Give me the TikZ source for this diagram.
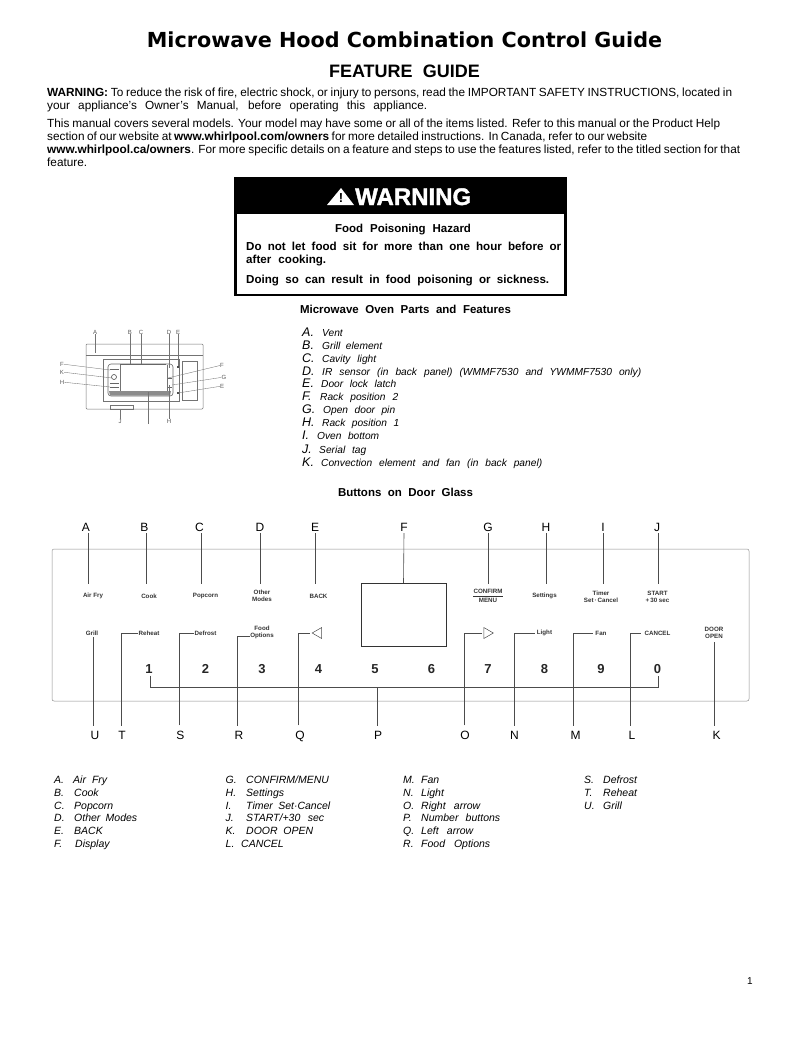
\documentclass[tikz,border=0pt]{standalone}
\usepackage{fontspec}
\setmainfont{Liberation Sans}
\newfontfamily\titlefont{DejaVu Sans}
\newfontfamily\warnfont[BoldFeatures={FakeBold=1.6}]{Liberation Sans}
\usepackage{tikz}
\usetikzlibrary{positioning,shapes.geometric}
\newcommand{\fitline}[2]{\makebox[#1pt][s]{#2}}
\newcommand{\fsize}[1]{\fontsize{#1}{#1}\selectfont}

\begin{document}
\begin{tikzpicture}[
    x=1pt, y=-1pt,
    on grid,
    page/.style={anchor=base west, inner sep=0pt, font=\fsize{11.8}},
    heading/.style={anchor=base, inner sep=0pt, font=\fsize{11.5}\bfseries},
    hazard/.style={anchor=base west, inner sep=0pt, font=\fsize{11.6}\bfseries},
    smalltag/.style={inner sep=0pt, font=\fsize{6}, text=black!65},
    leader/.style={draw=black!55, line width=0.35pt},
    letter/.style={anchor=base west, inner sep=0pt, font=\fsize{12.5}\itshape},
    partname/.style={anchor=base west, inner sep=0pt, font=\fsize{10.2}\itshape},
    legend/.style={anchor=base west, inner sep=0pt, font=\fsize{10.5}\itshape},
    callout/.style={anchor=base, inner sep=0pt, font=\fsize{12}},
    btn/.style={inner sep=0pt, align=center, font=\fsize{6.2}\bfseries, text=black!80},
    digit/.style={inner sep=0pt, font=\fsize{13}\bfseries, text=black!85},
    wire/.style={draw=black!70, line width=0.6pt},
    arrowkey/.style={isosceles triangle, isosceles triangle stretches, draw=black!70, line width=0.5pt,
                inner sep=0pt, minimum width=11pt, minimum height=9.5pt},
    node distance=56.5pt
]
\useasboundingbox (0,0) rectangle (802,1037);

% page heading
\node[anchor=base, inner sep=0pt, font=\titlefont\fsize{20.7}\bfseries] (title) at (404.5,47.5) {Microwave Hood Combination Control Guide};
\node[anchor=base, inner sep=0pt, font=\fsize{18}\bfseries] (subtitle) at (404.5,77) {\fitline{151}{FEATURE \ GUIDE}};

% intro text
\node[page] (warnone) at (47,96) {\fitline{685}{\textbf{WARNING:} To reduce the risk of fire, electric shock, or injury to persons, read the IMPORTANT SAFETY INSTRUCTIONS, located in}};
\node[page] (warntwo) at (47,109) {\fitline{380}{your appliance's Owner's Manual, before operating this appliance.}};
\node[page] (introone) at (47,127) {\fitline{673}{This manual covers several models. Your model may have some or all of the items listed. Refer to this manual or the Product Help}};
\node[page] (introtwo) at (47,140) {\fitline{600}{section of our website at \textbf{www.whirlpool.com/owners} for more detailed instructions. In Canada, refer to our website}};
\node[page] (introthree) at (47,153) {\fitline{693}{\textbf{www.whirlpool.ca/owners}. For more specific details on a feature and steps to use the features listed, refer to the titled section for that}};
\node[page] (introfour) at (47,166) {feature.};

% warning box
\fill[black] (234,177) rectangle (567,214);
\draw[black, line width=2.6pt] (235.3,178.3) rectangle (565.7,295);
\fill[white] (341,188) -- (354,205) -- (327,205) -- cycle;
\node[inner sep=0pt, font=\fsize{13}\bfseries, text=black] (bang) at (341,198) {!};
\node[anchor=base west, inner sep=0pt, text=white, font=\warnfont\fsize{24}\bfseries] (warnword) at (355,205) {WARNING};
\node[heading] (hazardname) at (403,232) {\fitline{136}{Food \ Poisoning \ Hazard}};
\node[hazard] (hazardone) at (246,250) {\fitline{315}{Do \ not \ let \ food \ sit \ for \ more \ than \ one \ hour \ before \ or}};
\node[hazard] (hazardtwo) at (246,263) {\fitline{80}{after \ cooking.}};
\node[hazard] (hazardthree) at (246,283) {\fitline{303}{Doing \ so \ can \ result \ in \ food \ poisoning \ or \ sickness.}};

\node[heading] (partshead) at (405.5,313) {\fitline{211}{Microwave \ Oven \ Parts \ and \ Features}};
\node[heading] (buttonshead) at (405.5,496) {\fitline{135}{Buttons \ on \ Door \ Glass}};

% oven sketch
\draw[black!55, line width=0.5pt, rounded corners=1pt] (86,344) rectangle (203,409);
\draw[black!55, line width=0.5pt] (86,355) -- (203,355);
\draw[black!55, line width=0.5pt] (103,359) rectangle (179,401);
\draw[black!55, line width=0.5pt] (182,361) rectangle (197,400);
\draw[black!60, line width=0.6pt, rounded corners=3pt] (108,364) rectangle (173,396);
\fill[black!45] (109,391) -- (171,391) -- (170,395.5) -- (110,395.5) -- cycle;
\draw[black!60, line width=0.8pt] (120,364.5) -- (166,364.5);
\draw[black!55, line width=0.5pt] (120,365) -- (120,391) (167,365) -- (167,391);
\draw[black!60, line width=0.6pt] (110,369) -- (119,369) (110,383) -- (119,383) (110,387) -- (119,387);
\draw[black!60, line width=0.6pt] (168,378) -- (172,378) (168,387) -- (172,387);
\draw[black!70, line width=0.6pt] (114,377) circle (2.5pt);
\fill[black!70] (177,366) rectangle (179,368);
\fill[black!70] (177,391.5) rectangle (179,393.5);
\draw[black!55, line width=0.5pt] (110,405) rectangle (133,409);

\node[smalltag] (tagA) at (95,332) {A};
\node[smalltag] (tagB) at (130,332) {B};
\node[smalltag] (tagC) at (141,332) {C};
\node[smalltag] (tagD) at (169,332) {D};
\node[smalltag] (tagE) at (178,332) {E};
\node[smalltag] (tagFleft) at (62,364) {F};
\node[smalltag] (tagK) at (62,372) {K};
\node[smalltag] (tagH) at (62,382) {H};
\node[smalltag] (tagFright) at (222,365) {F};
\node[smalltag] (tagG) at (224,377) {G};
\node[smalltag] (tagEright) at (222,386) {E};
\node[smalltag] (tagJ) at (120,421) {J};
\node[smalltag] (tagHlow) at (169,421) {H};
\coordinate (tagI) at (148,424);

\draw[leader] (tagA) -- (95,353);
\draw[leader] (tagB) -- (130,364);
\draw[leader] (tagC) -- (141,364);
\draw[leader] (tagD) -- (169,368);
\draw[leader] (tagE) -- (178,366);
\draw[leader] (tagFleft) -- (110,370);
\draw[leader] (tagK) -- (112,378);
\draw[leader] (tagH) -- (110,387);
\draw[leader] (tagFright) -- (168,378);
\draw[leader] (tagG) -- (172,385);
\draw[leader] (tagEright) -- (178,393);
\draw[leader] (tagJ) -- (120,409);
\draw[leader] (tagI) -- (148,392);
\draw[leader] (tagHlow) -- (169,385);

% parts list
\node[letter] (partA) at (302,336) {A.};
\node[partname] (nameA) at (322,336) {Vent};
\node[letter] (partB) at (302,349) {B.};
\node[partname] (nameB) at (322,349) {\fitline{60}{Grill \ element}};
\node[letter] (partC) at (302,362) {C.};
\node[partname] (nameC) at (322,362) {\fitline{54}{Cavity \ light}};
\node[letter] (partD) at (302,375) {D.};
\node[partname] (nameD) at (322,375) {\fitline{319}{IR \ sensor \ (in \ back \ panel) \ (WMMF7530 \ and \ YWMMF7530 \ only)}};
\node[letter] (partE) at (302,387.5) {E.};
\node[partname] (nameE) at (321,387.5) {\fitline{75}{Door \ lock \ latch}};
\node[letter] (partF) at (302,400) {F.};
\node[partname] (nameF) at (320,400) {\fitline{78}{Rack \ position \ 2}};
\node[letter] (partG) at (302,413) {G.};
\node[partname] (nameG) at (323,413) {\fitline{72}{Open \ door \ pin}};
\node[letter] (partH) at (302,426) {H.};
\node[partname] (nameH) at (322,426) {\fitline{77}{Rack \ position \ 1}};
\node[letter] (partI) at (302,439) {I.};
\node[partname] (nameI) at (317,439) {\fitline{62}{Oven \ bottom}};
\node[letter] (partJ) at (302,453) {J.};
\node[partname] (nameJ) at (319,453) {\fitline{47}{Serial \ tag}};
\node[letter] (partK) at (302,466) {K.};
\node[partname] (nameK) at (321,466) {\fitline{221}{Convection \ element \ and \ fan \ (in \ back \ panel)}};

% control panel
\draw[black!45, line width=0.5pt, rounded corners=2pt] (52,549) rectangle (749,701);
\node[draw=black!80, line width=0.5pt, minimum width=85pt, minimum height=63pt, inner sep=0pt] (display) at (403.5,614.5) {};

% number row
\node[digit] (digitone) at (149,669) {1};
\node[digit, right=of digitone] (digittwo) {2};
\node[digit, right=of digittwo] (digitthree) {3};
\node[digit, right=of digitthree] (digitfour) {4};
\node[digit, right=of digitfour] (digitfive) {5};
\node[digit, right=of digitfive] (digitsix) {6};
\node[digit, right=of digitsix] (digitseven) {7};
\node[digit, right=of digitseven] (digiteight) {8};
\node[digit, right=of digiteight] (digitnine) {9};
\node[digit, right=of digitnine] (digitzero) {0};

% lower buttons
\node[btn, above=36pt of digitone] (reheat) {Reheat};
\node[btn, above=36pt of digittwo] (defrost) {Defrost};
\node[btn, above=36pt of digitthree, yshift=0.5pt] (foodoptions) {Food\\[1pt]Options};
\node[btn, left=57pt of reheat] (grill) {Grill};
\node[arrowkey, shape border rotate=180, above=36pt of digitfour] (leftkey) {};
\node[arrowkey, above=36pt of digitseven, xshift=-1pt] (rightkey) {};
\node[btn, above=36pt of digiteight] (light) {Light};
\node[btn, above=36pt of digitnine] (fan) {Fan};
\node[btn, above=36pt of digitzero] (cancel) {CANCEL};
\node[btn, right=56.5pt of cancel, yshift=0.5pt] (dooropen) {DOOR\\[1pt]OPEN};

% upper buttons
\node[btn, above=37pt of reheat] (cook) {Cook};
\node[btn, above=37pt of defrost] (popcorn) {Popcorn};
\node[btn, left=56pt of cook] (airfry) {Air Fry};
\node[btn, above=36.5pt of foodoptions] (othermodes) {Other\\[1pt]Modes};
\node[btn, above=73pt of digitfour] (back) {BACK};
\node[btn, above=73pt of digitseven] (confirm) {CONFIRM\\[3.5pt]MENU};
\draw[black!80, line width=0.5pt] (confirm.west) -- (confirm.east);
\node[btn, above=37pt of light] (settings) {Settings};
\node[btn, above=37pt of fan, yshift=-0.5pt] (timer) {Timer\\[1pt]Set\,{\textperiodcentered}\,Cancel};
\node[btn, above=37pt of cancel, yshift=-0.5pt] (startkey) {START\\[1pt]+\,30 sec};

% callout letters
\node[callout] (topA) at (86,531) {A};
\node[callout] (topB) at (144.5,531) {B};
\node[callout] (topC) at (199.5,531) {C};
\node[callout] (topD) at (260,531) {D};
\node[callout] (topE) at (315,531) {E};
\node[callout] (topF) at (404,531) {F};
\node[callout] (topG) at (488,531) {G};
\node[callout] (topH) at (546,531) {H};
\node[callout] (topI) at (603,531) {I};
\node[callout] (topJ) at (657,531) {J};
\node[callout] (lowU) at (95,739) {U};
\node[callout] (lowT) at (122,739) {T};
\node[callout] (lowS) at (180.5,739) {S};
\node[callout] (lowR) at (239,739) {R};
\node[callout] (lowQ) at (300,739) {Q};
\node[callout] (lowP) at (378,739) {P};
\node[callout] (lowO) at (465,739) {O};
\node[callout] (lowN) at (514.5,739) {N};
\node[callout] (lowM) at (575.5,739) {M};
\node[callout] (lowL) at (632,739) {L};
\node[callout] (lowK) at (716.5,739) {K};

\draw[wire] ([xshift=2pt,yshift=-2pt]topA.south) -- (88,584);
\draw[wire] ([xshift=2pt,yshift=-2pt]topB.south) -- (146.5,584);
\draw[wire] ([xshift=2pt,yshift=-2pt]topC.south) -- (201.5,584);
\draw[wire] ([yshift=-2pt]topD.south) -- (260,584);
\draw[wire] ([xshift=0.5pt,yshift=-2pt]topE.south) -- (315.5,584);
\draw[wire] ([yshift=-2pt]topF.south) -- (display.north);
\draw[wire] ([xshift=0.5pt,yshift=-2pt]topG.south) -- (488.5,584);
\draw[wire] ([yshift=-2pt]topH.south) -- (546,584);
\draw[wire] ([yshift=-2pt]topI.south) -- (603,584);
\draw[wire] ([xshift=1pt,yshift=-2pt]topJ.south) -- (658,584);

\draw[wire] ([xshift=-2pt,yshift=5pt]lowU.north) -- ([xshift=1pt,yshift=-2pt]grill.south);
\draw[wire] ([xshift=-1pt,yshift=5pt]lowT.north) |- (reheat.west);
\draw[wire] ([xshift=-1.5pt,yshift=5pt]lowS.north) |- (defrost.west);
\draw[wire] ([xshift=-2pt,yshift=5pt]lowR.north) |- ([yshift=-3.5pt]foodoptions.west);
\draw[wire] ([xshift=-2pt,yshift=5pt]lowQ.north) |- ([xshift=-2pt]leftkey.apex);
\draw[wire] ([xshift=-1pt,yshift=5pt]lowO.north) |- ([xshift=-2pt]rightkey.west);
\draw[wire] ([yshift=5pt]lowN.north) |- ([xshift=-2pt]light.west);
\draw[wire] ([xshift=-2.5pt,yshift=5pt]lowM.north) |- ([xshift=-2pt]fan.west);
\draw[wire] ([xshift=-2pt,yshift=5pt]lowL.north) |- ([xshift=-3pt]cancel.west);
\draw[wire] ([xshift=-2.5pt,yshift=5pt]lowK.north) -- ([yshift=-3pt]dooropen.south);

% number bracket
\coordinate (bracketmid) at (377,687);
\draw[wire] ([xshift=1pt,yshift=-2pt]digitone.south) |- (bracketmid) -| ([xshift=1pt,yshift=-2pt]digitzero.south);
\draw[wire] ([xshift=-1pt,yshift=5pt]lowP.north) -- (bracketmid);

% legend
\node[legend] (legA) at (54,783) {A.}; \node[legend] (txtA) at (73,783) {\fitline{34}{Air \ Fry}};
\node[legend] (legB) at (54,796) {B.}; \node[legend] (txtB) at (74,796) {Cook};
\node[legend] (legC) at (54,809) {C.}; \node[legend] (txtC) at (74,809) {Popcorn};
\node[legend] (legD) at (54,821.5) {D.}; \node[legend] (txtD) at (74,821.5) {\fitline{63}{Other \ Modes}};
\node[legend] (legE) at (54,834) {E.}; \node[legend] (txtE) at (74,834) {BACK};
\node[legend] (legF) at (54,847) {F.}; \node[legend] (txtF) at (75,847) {Display};

\node[legend] (legG) at (225.5,783) {G.}; \node[legend] (txtG) at (246,783) {CONFIRM/MENU};
\node[legend] (legH) at (225.5,796) {H.}; \node[legend] (txtH) at (246,796) {Settings};
\node[legend] (legI) at (225.5,809) {I.}; \node[legend] (txtI) at (246,809) {\fitline{84}{Timer \ Set\textperiodcentered Cancel}};
\node[legend] (legJ) at (225.5,821.5) {J.}; \node[legend] (txtJ) at (246,821.5) {\fitline{78}{START/+30 \ sec}};
\node[legend] (legK) at (225.5,834) {K.}; \node[legend] (txtK) at (246,834) {\fitline{67}{DOOR \ OPEN}};
\node[legend] (legL) at (225.5,847) {L.}; \node[legend] (txtL) at (241,847) {CANCEL};

\node[legend] (legM) at (403,783) {M.}; \node[legend] (txtM) at (421,783) {Fan};
\node[legend] (legN) at (403,796) {N.}; \node[legend] (txtN) at (421,796) {Light};
\node[legend] (legO) at (403,809) {O.}; \node[legend] (txtO) at (421,809) {\fitline{59}{Right \ arrow}};
\node[legend] (legP) at (403,821.5) {P.}; \node[legend] (txtP) at (421,821.5) {\fitline{79}{Number \ buttons}};
\node[legend] (legQ) at (403,834) {Q.}; \node[legend] (txtQ) at (421,834) {\fitline{52}{Left \ arrow}};
\node[legend] (legR) at (403,847) {R.}; \node[legend] (txtR) at (421,847) {\fitline{69}{Food \ Options}};

\node[legend] (legS) at (584,783) {S.}; \node[legend] (txtS) at (603,783) {Defrost};
\node[legend] (legT) at (584,796) {T.}; \node[legend] (txtT) at (603,796) {Reheat};
\node[legend] (legU) at (584,809) {U.}; \node[legend] (txtU) at (603,809) {Grill};

\node[inner sep=0pt, font=\fsize{10}] (pagenum) at (750,981) {1};
\end{tikzpicture}
\end{document}
